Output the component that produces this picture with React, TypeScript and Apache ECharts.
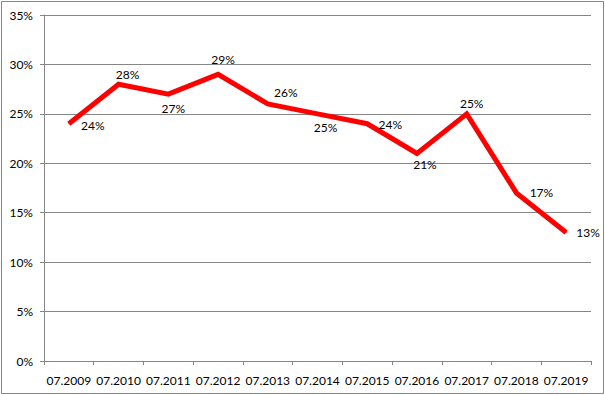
import React, { useEffect, useRef } from "react";
import * as echarts from "echarts";

const categories = ["07.2009", "07.2010", "07.2011", "07.2012", "07.2013", "07.2014", "07.2015", "07.2016", "07.2017", "07.2018", "07.2019"];
const values = [24, 28, 27, 29, 26, 25, 24, 21, 25, 17, 13];
const yTicks = { min: 0, max: 35, interval: 5 };
// label offsets (dx, dy) from each point, in pixels
const labelOffsets: [number, number][] = [
  [24, 2], [9, -10], [5, 14], [5, -15], [18, -11], [8, 14], [23, 1], [8, 11], [5, -10], [25, 0], [22, 0],
];

export default function App() {
  const ref = useRef<HTMLDivElement>(null);
  useEffect(() => {
    if (!ref.current) return;
    const chart = echarts.init(ref.current, null, { renderer: "svg" });
    const font = "Lato, 'Open Sans', sans-serif";
    chart.setOption({
      animation: false,
      backgroundColor: "#fff",
      grid: { left: 44, top: 15, right: 14, bottom: 34, containLabel: false },
      graphic: [
        {
          type: "rect",
          shape: { x: 1.5, y: 1.5, width: 602, height: 392 },
          style: { fill: "none", stroke: "#868686", lineWidth: 1 },
          silent: true,
        },
      ],
      xAxis: {
        type: "category",
        data: categories,
        boundaryGap: true,
        axisLine: { show: true, lineStyle: { color: "#868686", width: 1 } },
        axisTick: { show: true, length: 4, alignWithLabel: false, lineStyle: { color: "#868686" } },
        axisLabel: { color: "#000", fontSize: 12, fontFamily: font, margin: 13, interval: 0 },
        splitLine: { show: false },
      },
      yAxis: {
        type: "value",
        min: yTicks.min,
        max: yTicks.max,
        interval: yTicks.interval,
        axisLine: { show: true, lineStyle: { color: "#868686", width: 1 } },
        axisTick: { show: true, length: 4, lineStyle: { color: "#868686" } },
        axisLabel: { color: "#000", fontSize: 12, fontFamily: font, margin: 11, formatter: (v: number) => v + "%" },
        splitLine: { show: true, lineStyle: { color: "#868686", width: 1 } },
      },
      series: [
        {
          type: "line",
          data: values.map((v, i) => ({
            value: v,
            label: { offset: labelOffsets[i] },
          })),
          symbol: "circle",
          symbolSize: 1,
          showSymbol: true,
          itemStyle: { color: "#ff0000" },
          lineStyle: { color: "#ff0000", width: 5, join: "miter" },
          label: {
            show: true,
            position: "inside",
            color: "#000",
            fontSize: 12,
            fontFamily: font,
            formatter: (p: any) => p.value + "%",
          },
        },
      ],
    });
    return () => chart.dispose();
  }, []);
  return <div ref={ref} style={{ position: "fixed", left: 0, top: 0, width: 605, height: 395 }} />;
}
